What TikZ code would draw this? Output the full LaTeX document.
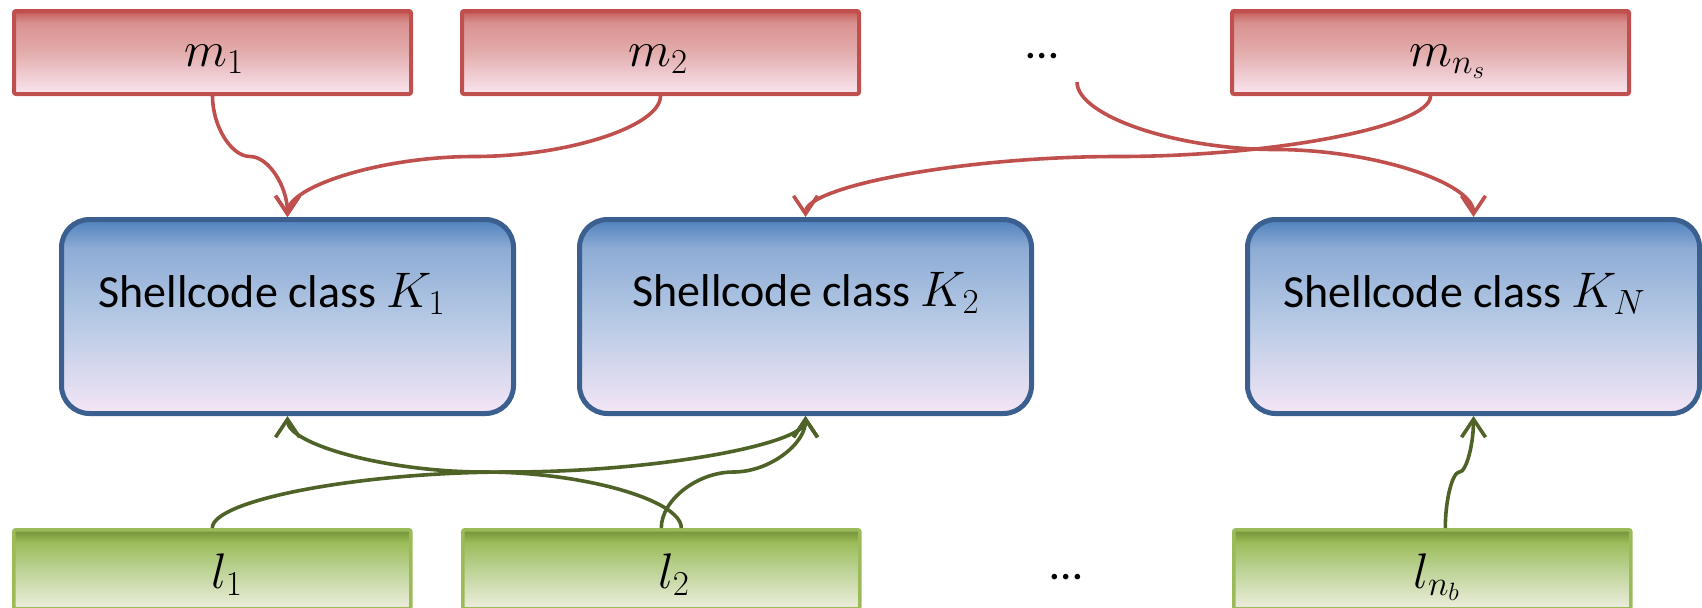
\RequirePackage{fix-cm}
\documentclass[tikz,border=0pt]{standalone}
\usepackage[no-math]{fontspec}
\setmainfont{Carlito}
\usetikzlibrary{arrows.meta,calc}

% line colours
\definecolor{redline}{HTML}{C0504D}
\definecolor{blueline}{HTML}{3B5F8F}
\definecolor{greenline}{HTML}{9BBB59}
\definecolor{redarrow}{HTML}{C0504D}
\definecolor{greenarrow}{HTML}{4F6228}

% gradient stops
\definecolor{rA}{HTML}{FAE5EF}
\definecolor{rB}{HTML}{F5DAE3}
\definecolor{rC}{HTML}{E3ADAD}
\definecolor{rD}{HTML}{D8918F}
\definecolor{rE}{HTML}{CB6A67}
\definecolor{rF}{HTML}{C0504D}

\definecolor{bA}{HTML}{F4E6F6}
\definecolor{bB}{HTML}{DFDCF0}
\definecolor{bC}{HTML}{B4C8E4}
\definecolor{bD}{HTML}{8EACD5}
\definecolor{bE}{HTML}{4F81BD}

\definecolor{gA}{HTML}{EEEBE2}
\definecolor{gB}{HTML}{E3E9CF}
\definecolor{gC}{HTML}{BCD294}
\definecolor{gD}{HTML}{9CBC5A}
\definecolor{gE}{HTML}{86A646}
\definecolor{gF}{HTML}{74903A}

\pgfdeclareverticalshading{redfill}{100bp}{color(0bp)=(rA); color(25bp)=(rA);
  color(30bp)=(rB); color(50bp)=(rC); color(68bp)=(rD); color(73bp)=(rE);
  color(75bp)=(rF); color(100bp)=(rF)}
\pgfdeclareverticalshading{bluefill}{100bp}{color(0bp)=(bA); color(25bp)=(bA);
  color(33bp)=(bB); color(50bp)=(bC); color(67.5bp)=(bD); color(75bp)=(bE);
  color(100bp)=(bE)}
\pgfdeclareverticalshading{greenfill}{100bp}{color(0bp)=(gA); color(25bp)=(gA);
  color(30bp)=(gB); color(50bp)=(gC); color(67bp)=(gD); color(71bp)=(gE);
  color(75bp)=(gF); color(100bp)=(gF)}

% math labels set a little larger than the surrounding text
\newcommand{\mathlbl}[1]{{\fontsize{25pt}{30pt}\selectfont$#1$}}

\tikzset{
  msgbox/.style={draw=redline, line width=2pt, shading=redfill,
    rounded corners=1pt, anchor=north west, inner sep=0pt,
    minimum width=198.5pt, minimum height=41.5pt},
  libbox/.style={draw=greenline, line width=1.8pt, shading=greenfill,
    rounded corners=1pt, anchor=north west, inner sep=0pt,
    minimum width=198.5pt, minimum height=39.5pt},
  classbox/.style={draw=blueline, line width=2.5pt, shading=bluefill,
    rounded corners=14pt, anchor=north west, inner sep=0pt,
    minimum width=226pt, minimum height=97pt},
  txt/.style={inner sep=0pt, anchor=base west, font=\fontsize{23pt}{28pt}\selectfont},
  dots/.style={inner sep=0pt, anchor=base, font=\fontsize{23pt}{28pt}\selectfont},
  % curved connector: vertical at both ends, horizontal half-way
  sbend/.style={to path={
    let \p1=(\tikztostart), \p2=(\tikztotarget), \p3=($(\p1)!0.5!(\p2)$) in
    .. controls (\x1,{\y1+(\y2-\y1)/4}) and ({\x1+(\x2-\x1)/4},\y3) .. (\p3)
    .. controls ({\x1+3*(\x2-\x1)/4},\y3) and (\x2,{\y1+3*(\y2-\y1)/4}) .. (\tikztotarget)}},
  redlink/.style={draw=redarrow, line width=1.8pt, sbend,
    -{Straight Barb[length=9pt,width=12pt,line width=1.8pt]}},
  greenlink/.style={draw=greenarrow, line width=1.8pt, sbend,
    -{Straight Barb[length=9pt,width=12pt,line width=1.8pt]}}
}

\begin{document}
\begin{tikzpicture}[x=0.5pt,y=-0.5pt]
\useasboundingbox (0,0) rectangle (1702,607);
\clip (0,0) rectangle (1702,607);

% message boxes
\node[msgbox] (m1) at (12,9) {};
\node[msgbox] (m2) at (460,9) {};
\node[msgbox] (mns) at (1230,9) {};

% shellcode classes
\node[classbox] (K1) at (59,217) {};
\node[classbox] (K2) at (577,217) {};
\node[classbox] (KN) at (1245,217) {};

% library boxes
\node[libbox] (l1) at (12,528) {};
\node[libbox] (l2) at (461,528) {};
\node[libbox] (lnb) at (1232,528) {};

% labels
\node[txt] (m1t) at (184,66) {\mathlbl{m_1}};
\node[txt] (m2t) at (628,66) {\mathlbl{m_2}};
\node[txt] (mnst) at (1409,66) {\mathlbl{m_{n_s}}};
\node[dots] (topdots) at (1042,58) {…};
\coordinate (dotsfree) at (1077,82);

\node[txt] (K1t) at (98,307) {Shellcode class \mathlbl{K_1}};
\node[txt] (K2t) at (632,306) {Shellcode class \mathlbl{K_2}};
\node[txt] (KNt) at (1283,307) {Shellcode class \mathlbl{K_N}};

\node[txt] (l1t) at (211,588) {\mathlbl{l_1}};
\node[txt] (l2t) at (658,588) {\mathlbl{l_2}};
\node[txt] (lnbt) at (1413,588) {\mathlbl{l_{n_b}}};
\node[dots] (botdots) at (1066,579) {…};

% messages to classes
\draw[redlink] (m1.south) to (K1.north);
\draw[redlink] (m2.south) to (K1.north);
\draw[redlink] (dotsfree) to (KN.north);
\draw[redlink] (mns.south) to (K2.north);

% libraries to classes
\draw[greenlink] (l1.north) to (K2.south);
\draw[greenlink] ([xshift=10pt]l2.north) to (K1.south);
\draw[greenlink] (l2.north) to (K2.south);
\draw[greenlink] ([xshift=6.5pt]lnb.north) to (KN.south);
\end{tikzpicture}
\end{document}
